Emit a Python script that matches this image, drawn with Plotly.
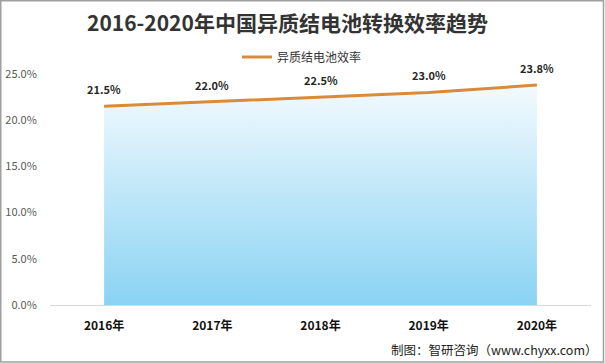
import plotly.graph_objects as go

years = ["2016年", "2017年", "2018年", "2019年", "2020年"]
efficiency = [21.5, 22.0, 22.5, 23.0, 23.8]
labels = ["21.5%", "22.0%", "22.5%", "23.0%", "23.8%"]
yticks = [0, 5, 10, 15, 20, 25]
yticklabels = ["0.0%", "5.0%", "10.0%", "15.0%", "20.0%", "25.0%"]
series_name = "异质结电池效率"

xs = list(range(len(years)))
font = "Noto Sans CJK SC"
line_color = "#D98B3A"

W, H = 605, 363
ml, mr, mt, mb = 50, 14, 74, 58
pw, ph = W - ml - mr, H - mt - mb


def px_x(x):
    return (x - ml) / pw


def px_y(y):
    return (H - mb - y) / ph


fig = go.Figure()
fig.add_trace(go.Scatter(
    x=xs, y=efficiency, mode="lines", name=series_name, showlegend=False,
    line=dict(color=line_color, width=3),
    fill="tozeroy",
    fillgradient=dict(type="vertical",
                      colorscale=[[0, "#8AD3F3"], [1, "#F3FAFE"]]),
    hoverinfo="skip",
))
# legend entry showing only the line
fig.add_trace(go.Scatter(
    x=[None], y=[None], mode="lines", name=series_name,
    line=dict(color=line_color, width=3), hoverinfo="skip",
))

for x, y, t in zip(xs, efficiency, labels):
    fig.add_annotation(x=x, y=y, text="<b>%s</b>" % t, showarrow=False, yshift=17,
                       font=dict(family=font, size=11, color="#262626"),
                       xref="x", yref="y")

fig.add_annotation(text="<b>2016-2020年中国异质结电池转换效率趋势</b>",
                   x=px_x(287), y=px_y(22), xref="paper", yref="paper",
                   xanchor="center", yanchor="middle",
                   showarrow=False, font=dict(family=font, size=21, color="#333333"))
fig.add_annotation(text="制图：智研咨询（www.chyxx.com）",
                   x=px_x(600), y=px_y(349), xref="paper", yref="paper",
                   xanchor="right", yanchor="middle",
                   showarrow=False, font=dict(family=font, size=12.5, color="#222222"))

fig.update_layout(
    width=W, height=H,
    margin=dict(l=ml, r=mr, t=mt, b=mb, autoexpand=False),
    paper_bgcolor="white", plot_bgcolor="white",
    showlegend=True,
    legend=dict(orientation="h", x=px_x(302), xanchor="center",
                y=px_y(57), yanchor="middle",
                font=dict(family=font, size=12, color="#333333"),
                bgcolor="rgba(0,0,0,0)"),
    xaxis=dict(range=[-0.5, 4.5], tickvals=xs,
               ticktext=["<b>%s</b>" % y for y in years],
               showgrid=False, zeroline=False, showline=True,
               linecolor="#D9D9D9", linewidth=1,
               ticks="outside", ticklen=10, tickcolor="rgba(0,0,0,0)",
               tickfont=dict(family=font, size=12, color="#111111")),
    yaxis=dict(range=[0, 25], tickvals=yticks, ticktext=yticklabels,
               showgrid=False, zeroline=False, showline=False,
               ticks="outside", ticklen=10, tickcolor="rgba(0,0,0,0)",
               tickfont=dict(family=font, size=11, color="#595959")),
    shapes=[dict(type="rect", xref="paper", yref="paper",
                 x0=px_x(0.75), x1=px_x(W - 1.5),
                 y0=px_y(H - 1), y1=px_y(0.75),
                 line=dict(color="#A0A0A0", width=1.5))],
)

fig.write_html("out.html",
               config={"displayModeBar": False, "staticPlot": True},
               post_script="document.body.style.margin='0';"
                           "document.body.style.overflow='hidden';")
